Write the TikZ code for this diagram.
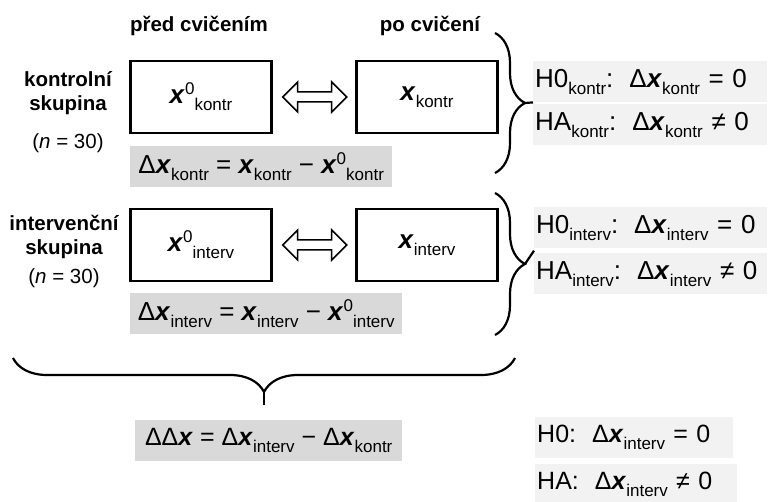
\documentclass[tikz,border=0pt]{standalone}
\usepackage{fontspec}
\setmainfont{Liberation Sans}
\usetikzlibrary{calc,decorations.pathreplacing}

\newcommand{\vx}{\textbf{\textit{x}}}
\newcommand{\subtx}[1]{\raisebox{-7pt}{\fontsize{17}{17}\selectfont #1}}
\newcommand{\suptx}[1]{\raisebox{9pt}{\fontsize{17}{17}\selectfont #1}}

\begin{document}
\begin{tikzpicture}[x=1pt,y=-1pt,
  head/.style={font=\fontsize{20.5}{24}\selectfont\bfseries, align=center},
  nlabel/.style={font=\fontsize{20.5}{24}\selectfont},
  valbox/.style={draw, line width=2.4pt, minimum width=141pt, minimum height=72pt, font=\fontsize{26}{30}\selectfont},
  diffbox/.style={fill=gray!30, anchor=north west, minimum height=41pt, inner xsep=0pt, font=\fontsize{26}{30}\selectfont},
  hypbox/.style={fill=gray!10, anchor=north west, minimum height=41pt, inner xsep=2pt, align=left, font=\fontsize{26}{30}\selectfont},
  dblarrow/.style={draw, fill=white, line width=1.5pt, line join=miter},
  curly/.style={decorate, decoration={brace, amplitude=#1}, line width=2.2pt},
  stem/.style={line width=2.2pt}
]
\useasboundingbox (0,0) rectangle (768,502);

% Column headers
\node[head] (pre) at (199,26) {před cvičením};
\node[head] (post) at (430,26) {po cvičení};

% Control group
\node[head] (grpK) at (68,93) {kontrolní\\skupina};
\node[nlabel] (nK) at (68,143) {(\textit{n} = 30)};
\node[valbox] (k1) at (201,97) {\vx\suptx{0}\subtx{kontr}};
\node[valbox] (k2) at (427,97) {\vx\subtx{kontr}};
\draw[dblarrow] ($(k1.east)+(10,0)$) -- ++(15,-15) -- ++(0,10) -- ++(34,0) -- ++(0,-10) -- ++(15,15)
  -- ++(-15,15) -- ++(0,-10) -- ++(-34,0) -- ++(0,10) -- cycle;
\node[diffbox, minimum width=262pt] (kd) at (130,146)
  {Δ\vx\subtx{kontr} = \vx\subtx{kontr} − \vx\suptx{0}\subtx{kontr}};

% Intervention group
\node[head] (grpI) at (64,237) {intervenční\\skupina};
\node[nlabel] (nI) at (64,278) {(\textit{n} = 30)};
\node[valbox] (i1) at (201,245) {\vx\suptx{0}\subtx{interv}};
\node[valbox] (i2) at (427,245) {\vx\subtx{interv}};
\draw[dblarrow] ($(i1.east)+(10,0)$) -- ++(15,-15) -- ++(0,10) -- ++(34,0) -- ++(0,-10) -- ++(15,15)
  -- ++(-15,15) -- ++(0,-10) -- ++(-34,0) -- ++(0,10) -- cycle;
\node[diffbox, minimum width=272pt] (id) at (130,293)
  {Δ\vx\subtx{interv} = \vx\subtx{interv} − \vx\suptx{0}\subtx{interv}};

% Hypotheses
\node[hypbox, text width=230pt] (h0K) at (533,61) {H0\subtx{kontr}:\hspace{16pt}Δ\vx\subtx{kontr} = 0};
\node[hypbox, text width=230pt] (haK) at (533,104) {HA\subtx{kontr}:\hspace{16pt}Δ\vx\subtx{kontr} ≠ 0};
\node[hypbox, text width=229pt] (h0I) at (534,207) {H0\subtx{interv}:\hspace{16pt}Δ\vx\subtx{interv} = 0};
\node[hypbox, text width=229pt] (haI) at (534,253) {HA\subtx{interv}:\hspace{16pt}Δ\vx\subtx{interv} ≠ 0};

% Braces
\draw[curly=30pt] (495,33) -- (495,173);
\coordinate (tK) at (525,103);
\draw[stem] (tK) -- (h0K.south west);
\draw[curly=30pt] (495,193) -- (495,335);
\coordinate (tI) at (525,264);
\draw[stem] (tI) -- ($(h0I.south west)!0.5!(haI.north west)$);
\draw[curly=34pt] (515,358) -- (13,358);
\coordinate (tD) at (264,392);
\coordinate (sD) at (264,405);
\draw[stem] (tD) -- (sD);

% Difference of differences
\node[diffbox, minimum width=267pt, font=\fontsize{25}{30}\selectfont] (dd) at (135,420)
  {ΔΔ\vx{} = Δ\vx\subtx{interv} − Δ\vx\subtx{kontr}};
\node[hypbox, text width=194pt, font=\fontsize{25}{30}\selectfont] (h0D) at (535,417) {H0:\hspace{16pt}Δ\vx\subtx{interv} = 0};
\node[hypbox, text width=198pt, font=\fontsize{25}{30}\selectfont] (haD) at (535,464) {HA:\hspace{16pt}Δ\vx\subtx{interv} ≠ 0};
\end{tikzpicture}
\end{document}
